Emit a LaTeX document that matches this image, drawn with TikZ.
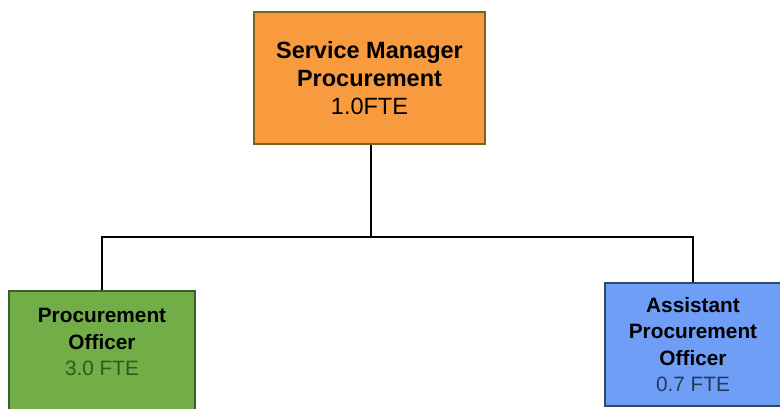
\documentclass[tikz,border=0pt]{standalone}
\usepackage{fontspec}
\setmainfont{Liberation Sans}

\definecolor{mgrfill}{HTML}{F89A3E}
\definecolor{mgrline}{HTML}{7A6224}
\definecolor{pofill}{HTML}{72AE48}
\definecolor{poline}{HTML}{3B5E2A}
\definecolor{potext}{HTML}{2D5A1E}
\definecolor{apofill}{HTML}{6E9EF5}
\definecolor{apoline}{HTML}{34495E}
\definecolor{apotext}{HTML}{27395A}

\begin{document}
\begin{tikzpicture}[x=1pt,y=-1pt,inner sep=0pt,
  box/.style={draw,line width=1.5pt,align=center},
  conn/.style={draw=black,line width=1.8pt}]

\useasboundingbox (0,0) rectangle (780,408);

\node[box,draw=mgrline,fill=mgrfill,minimum width=231pt,minimum height=132pt,
  font=\fontsize{23.5}{28}\selectfont] (sm) at (369.5,78)
  {\textbf{Service Manager}\\\textbf{Procurement}\\1.0FTE};

\node[box,draw=poline,fill=pofill,minimum width=186pt,minimum height=140pt,
  anchor=north] (po) at (102,290) {};
\node[align=center,font=\fontsize{20.8}{26.5}\selectfont] (potxt) at (102,342)
  {\textbf{Procurement}\\\textbf{Officer}\\\textcolor{potext}{3.0 FTE}};

\node[box,draw=apoline,fill=apofill,minimum width=176pt,minimum height=123pt,
  font=\fontsize{20.8}{26.5}\selectfont] (apo) at (693,344.5)
  {\textbf{Assistant}\\\textbf{Procurement}\\\textbf{Officer}\\\textcolor{apotext}{0.7 FTE}};

\coordinate (bus) at (371,237);

\draw[conn] (sm.south -| bus) -- (bus);
\draw[conn] (po.north) |- (bus) -| (apo.north);

\end{tikzpicture}
\end{document}
